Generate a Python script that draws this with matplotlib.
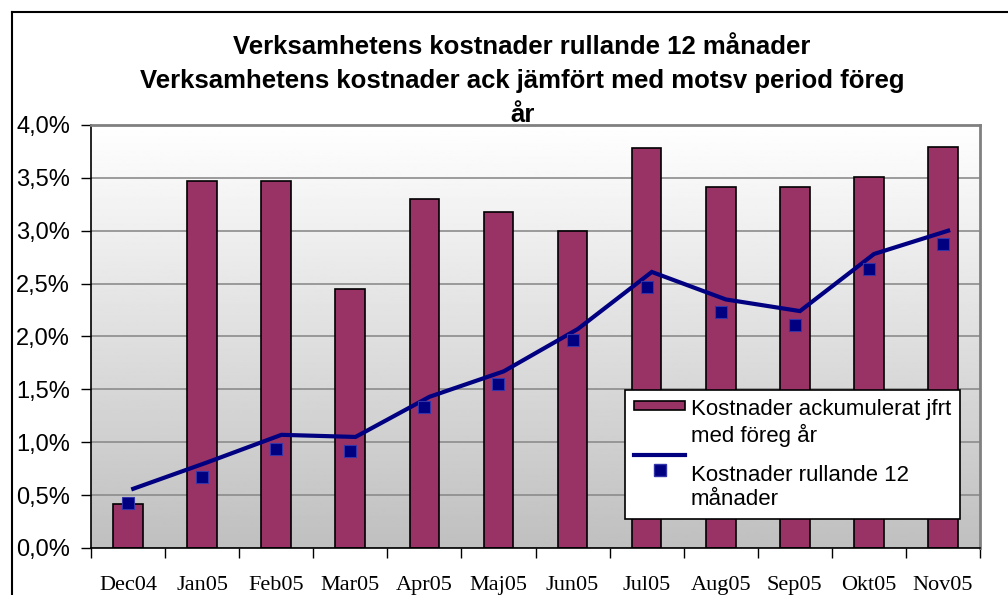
import numpy as np
import matplotlib
matplotlib.use("Agg")
import matplotlib.pyplot as plt
from matplotlib.lines import Line2D
from matplotlib.patches import Patch, Rectangle
from matplotlib.legend_handler import HandlerBase
from matplotlib.ticker import FuncFormatter, MultipleLocator

months = ["Dec04", "Jan05", "Feb05", "Mar05", "Apr05", "Maj05",
          "Jun05", "Jul05", "Aug05", "Sep05", "Okt05", "Nov05"]
# kostnader ackumulerat jfrt med föreg år (%)
ack = [0.42, 3.47, 3.47, 2.45, 3.30, 3.18, 3.00, 3.78, 3.41, 3.41, 3.51, 3.79]
# rullande 12 månader, linjen (%)
rull_line = [0.56, 0.81, 1.07, 1.05, 1.43, 1.67, 2.07, 2.61, 2.35, 2.24, 2.78, 3.00]
# rullande 12 månader, punkterna (%)
rull_pts = [0.43, 0.67, 0.94, 0.92, 1.33, 1.55, 1.97, 2.47, 2.23, 2.11, 2.64, 2.87]

bar_col = "#993366"
line_col = "#000080"


class BarHandler(HandlerBase):
    # bar swatch placed on the first text row, like excel does
    def create_artists(self, legend, orig_handle, xdescent, ydescent,
                       width, height, fontsize, trans):
        r = Rectangle((-xdescent, -ydescent + 0.95 * fontsize), width, 0.4 * fontsize,
                      facecolor=bar_col, edgecolor="black", linewidth=1.2,
                      transform=trans)
        return [r]


class LineHandler(HandlerBase):
    # line above, marker below (as in the original)
    def create_artists(self, legend, orig_handle, xdescent, ydescent,
                       width, height, fontsize, trans):
        yc = -ydescent + height / 2
        ln = Line2D([-xdescent, -xdescent + width], [yc + 1.45 * fontsize] * 2,
                    color=line_col, linewidth=3, transform=trans)
        mk = Line2D([-xdescent + width / 2], [yc + 0.8 * fontsize], linestyle="none",
                    marker="s", markersize=8, markerfacecolor=line_col,
                    markeredgecolor="#3333aa", transform=trans)
        return [ln, mk]


fig = plt.figure(figsize=(10.08, 5.95), dpi=100)
ax = fig.add_axes([0.0903, 0.079, 0.8819, 0.711])

x = np.arange(len(months))
ax.set_xlim(-0.5, len(months) - 0.5)
ax.set_ylim(0, 4.0)

# gradient background
grad = np.linspace(1.0, 0.75, 256).reshape(-1, 1)
ax.imshow(grad, cmap="gray", vmin=0, vmax=1, aspect="auto",
          extent=(-0.5, len(months) - 0.5, 0, 4.0), zorder=0)

ax.yaxis.set_major_locator(MultipleLocator(0.5))
ax.grid(axis="y", color="#8c8c8c", linewidth=1.2, zorder=1)
ax.set_axisbelow(True)

ax.bar(x, ack, width=0.4, color=bar_col, edgecolor="black", linewidth=1.2, zorder=2)
ax.plot(x + 0.07, rull_line, color=line_col, linewidth=3, zorder=3,
        solid_joinstyle="miter")
ax.plot(x, rull_pts, linestyle="none", marker="s", markersize=8,
        markerfacecolor=line_col, markeredgecolor="#3333aa", markeredgewidth=0.8,
        zorder=4)

ax.yaxis.set_major_formatter(FuncFormatter(lambda v, p: f"{v:.1f}%".replace(".", ",")))
ax.tick_params(axis="y", labelsize=17, length=7, width=1, direction="out", pad=8)
for t in ax.get_yticklabels():
    t.set_family("Liberation Sans")

ax.set_xticks(x)
ax.set_xticklabels(months, family="Liberation Serif", fontsize=16)
ax.set_xticks(np.arange(-0.5, len(months)), minor=True)
ax.tick_params(axis="x", which="major", length=0, pad=20)
ax.tick_params(axis="x", which="minor", length=7, width=1, direction="out")

for s in ["top", "right"]:
    ax.spines[s].set_color("#808080")
    ax.spines[s].set_linewidth(2)
for s in ["left", "bottom"]:
    ax.spines[s].set_color("black")
    ax.spines[s].set_linewidth(1.2)

fig.text(0.518, 0.942, "Verksamhetens kostnader rullande 12 månader\n"
         "Verksamhetens kostnader ack jämfört med motsv period föreg\når",
         ha="center", va="top", fontsize=18.5, fontweight="bold",
         family="Liberation Sans", linespacing=1.53)

handles = [Patch(facecolor=bar_col), Line2D([], [], color=line_col)]
labels = ["Kostnader ackumulerat jfrt\nmed föreg år",
          "Kostnader rullande 12\nmånader"]
leg = ax.legend(handles, labels, loc="lower right", bbox_to_anchor=(0.9775, 0.0686),
                handler_map={Patch: BarHandler(), Line2D: LineHandler()},
                prop={"family": "Liberation Sans", "size": 16},
                frameon=True, fancybox=False, framealpha=1, edgecolor="black",
                borderpad=0.4, borderaxespad=0, handlelength=2.3,
                handletextpad=0.25, labelspacing=0.8)
leg.get_frame().set_linewidth(1.2)
leg.set_zorder(10)

# outer chart border (top and left visible)
fig.add_artist(Line2D([12 / 1008, 1], [1 - 12 / 595, 1 - 12 / 595], color="black", lw=1.5))
fig.add_artist(Line2D([12 / 1008, 12 / 1008], [0, 1 - 12 / 595], color="black", lw=1.5))

fig.savefig("out.png", dpi=100)
